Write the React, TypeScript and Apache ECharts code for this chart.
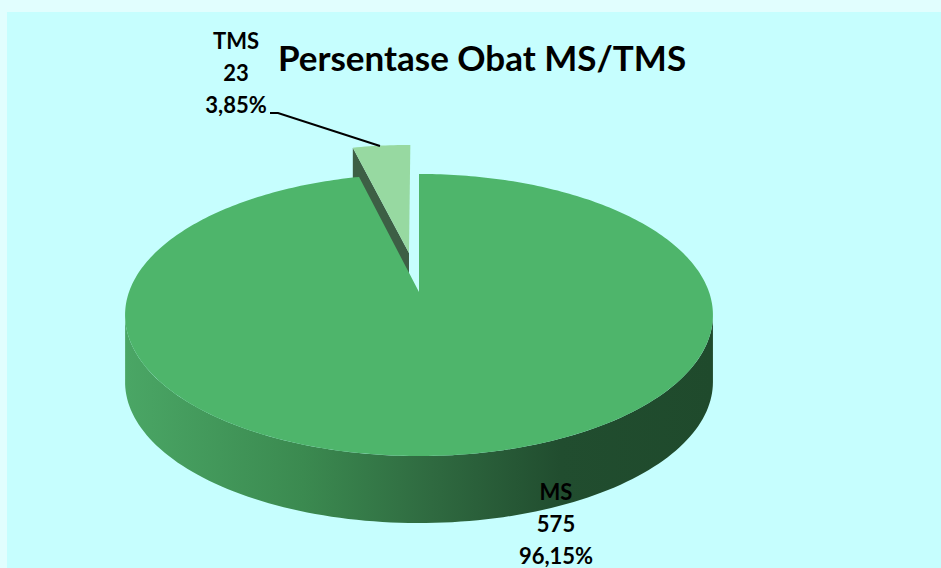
import React, { useEffect, useRef } from "react";
import * as echarts from "echarts";

// ---- data ----
const CATEGORIES = ["MS", "TMS"];
const VALUES = [575, 23];
const TITLE = "Persentase Obat MS/TMS";

// ---- geometry / style constants ----
const EXPLODE = [0, 0.3];
const CX = 419;
const CY = 292;
const K = 290;
const B = 137.3;
const A = 0.163;
const DEPTH = 67;
const TOP_COLORS = ["#4eb56b", "#97d9a1"];
const RADIAL_COLOR = "#3d5f45";
const FONT = "Lato, 'Open Sans', sans-serif";

const TOTAL = VALUES.reduce((s, v) => s + v, 0);
const CUM: number[] = [];
VALUES.reduce((s, v, i) => {
  CUM[i] = s;
  return s + v;
}, 0);
const pctText = (v: number) => ((v / TOTAL) * 100).toFixed(2).replace(".", ",") + "%";
const labelText = (i: number) => `${CATEGORIES[i]}\n${VALUES[i]}\n${pctText(VALUES[i])}`;

function proj(u: number, w: number): number[] {
  const d = 1 + A * w;
  return [CX + (K * u) / d, CY - (B * w) / d];
}

const sideGradient = () =>
  new echarts.graphic.LinearGradient(
    126,
    0,
    713,
    0,
    [
      { offset: 0, color: "#4aa665" },
      { offset: 0.3, color: "#3b8a50" },
      { offset: 0.52, color: "#2f6a40" },
      { offset: 0.74, color: "#214d2f" },
      { offset: 1, color: "#1f4a2c" },
    ],
    true
  );

function renderItem(params: any) {
  const i = params.dataIndex;
  const start = (CUM[i] / TOTAL) * Math.PI * 2;
  const end = ((CUM[i] + VALUES[i]) / TOTAL) * Math.PI * 2;
  const mid = (start + end) / 2;
  const e = EXPLODE[i] || 0;
  const eu = e * Math.sin(mid);
  const ew = e * Math.cos(mid);
  const base = Math.round((1 - Math.cos(mid)) * 10);
  const pt = (th: number, dy = 0) => {
    const p = proj(eu + Math.sin(th), ew + Math.cos(th));
    return [p[0], p[1] + dy];
  };
  const apex = proj(eu, ew);
  const children: any[] = [];
  const camU = 0;
  const camW = -1 / A;

  // radial faces
  [
    [start, -1],
    [end, 1],
  ].forEach(([th, sign]) => {
    const nu = sign * Math.cos(th);
    const nw = sign * -Math.sin(th);
    const mu = eu + 0.5 * Math.sin(th);
    const mw = ew + 0.5 * Math.cos(th);
    const dot = nu * (camU - mu) + nw * (camW - mw);
    if (dot > 0.05) {
      children.push({
        type: "polygon",
        z2: base + 1,
        shape: {
          points: [apex, pt(th), pt(th, DEPTH), [apex[0], apex[1] + DEPTH]],
        },
        style: { fill: RADIAL_COLOR },
      });
    }
  });

  // outer side
  const N = 240;
  let run: number[] = [];
  const runs: number[][] = [];
  for (let s = 0; s <= N; s++) {
    const th = start + ((end - start) * s) / N;
    const vis = -(eu * Math.sin(th) + ew * Math.cos(th)) - 1 - Math.cos(th) / A > 0;
    if (vis) run.push(th);
    else if (run.length) {
      runs.push(run);
      run = [];
    }
  }
  if (run.length) runs.push(run);
  runs.forEach((r) => {
    if (r.length < 2) return;
    const topPts = r.map((th) => pt(th));
    const botPts = r.map((th) => pt(th, DEPTH)).reverse();
    children.push({
      type: "polygon",
      z2: base + 2,
      shape: { points: topPts.concat(botPts) },
      style: { fill: sideGradient() },
    });
  });

  // top face
  const arc: number[][] = [apex];
  const M = Math.max(8, Math.ceil(((end - start) / (Math.PI * 2)) * 360));
  for (let s = 0; s <= M; s++) arc.push(pt(start + ((end - start) * s) / M));
  children.push({
    type: "polygon",
    z2: base + 3,
    shape: { points: arc },
    style: { fill: TOP_COLORS[i] },
  });

  return { type: "group", children };
}

export default function App() {
  const ref = useRef<HTMLDivElement>(null);
  useEffect(() => {
    if (!ref.current) return;
    const chart = echarts.init(ref.current, null, { renderer: "svg" });
    chart.setOption({
      animation: false,
      backgroundColor: "#e1fefe",
      graphic: [
        {
          type: "rect",
          z: -10,
          shape: { x: 7, y: 12, width: 941, height: 568 },
          style: { fill: "#c6fefe" },
          silent: true,
        },
        {
          type: "text",
          x: 482,
          y: 57,
          z: 10,
          style: {
            text: TITLE,
            fill: "#000",
            fontSize: 35,
            fontWeight: "bold",
            fontFamily: FONT,
            align: "center",
            verticalAlign: "middle",
            textAlign: "center",
            textVerticalAlign: "middle",
          },
        },
        {
          type: "text",
          x: 236,
          y: 72,
          z: 10,
          style: {
            text: labelText(1),
            fill: "#000",
            fontSize: 22,
            fontWeight: "bold",
            fontFamily: FONT,
            lineHeight: 32,
            align: "center",
            verticalAlign: "middle",
            textAlign: "center",
            textVerticalAlign: "middle",
          },
        },
        {
          type: "text",
          x: 556,
          y: 523,
          z: 10,
          style: {
            text: labelText(0),
            fill: "#000",
            fontSize: 22,
            fontWeight: "bold",
            fontFamily: FONT,
            lineHeight: 32,
            align: "center",
            verticalAlign: "middle",
            textAlign: "center",
            textVerticalAlign: "middle",
          },
        },
        {
          type: "polyline",
          z: 10,
          shape: {
            points: [
              [270, 113],
              [278, 113],
              [380, 146],
            ],
          },
          style: { stroke: "#000", lineWidth: 2, fill: "none" },
        },
      ],
      series: [
        {
          type: "custom",
          coordinateSystem: "none",
          silent: true,
          renderItem,
          data: VALUES.map((v, i) => ({ name: CATEGORIES[i], value: [v, i] })),
        },
      ],
    });
    return () => chart.dispose();
  }, []);
  return (
    <div
      ref={ref}
      style={{ position: "fixed", left: 0, top: 0, width: 941, height: 568 }}
    />
  );
}
